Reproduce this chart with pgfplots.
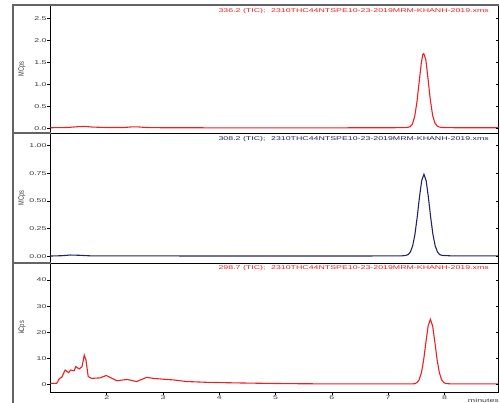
\documentclass[border=0pt]{standalone}
\usepackage{fontspec}
\setmainfont{Liberation Sans}
\usepackage{graphicx}
\usepackage{pgfplots}
\pgfplotsset{compat=1.18}
\definecolor{cred}{RGB}{240,30,30}
\definecolor{cnavy}{RGB}{35,35,100}
\definecolor{tcol}{RGB}{60,60,60}
\definecolor{fcol}{RGB}{100,100,100}
\newcommand{\T}[1]{\scalebox{1.6}[1]{\fontsize{5.5}{6}\selectfont #1}}
\newcommand{\YL}[1]{\scalebox{0.7}[1]{\fontsize{8}{9}\selectfont #1}}
\pgfplotsset{panel/.style={
  scale only axis, width=448pt, anchor=north west,
  xmin=1, xmax=8.96,
  axis line style={line width=0.8pt, black},
  tick style={line width=0.6pt, black},
  major tick length=3pt, tick align=outside,
  ytick pos=left, xtick pos=bottom,
  yticklabel style={inner sep=0.8pt, text=tcol},
  xticklabel style={inner sep=0.8pt, text=tcol},
  ylabel style={at={(axis description cs:-0.0636,0.5)}, anchor=center, text=tcol},
}}
\begin{document}
\begin{tikzpicture}[x=1pt,y=1pt]
\path[use as bounding box] (0,0) rectangle (500,-403);
% panel 1
\begin{axis}[panel, at={(50.5pt,-5pt)}, height=128pt,
  ymin=-0.11, ymax=2.81, xtick=\empty,
  ytick={0,0.5,1,1.5,2,2.5},
  yticklabels={\T{0.0},\T{0.5},\T{1.0},\T{1.5},\T{2.0},\T{2.5}},
  ylabel={\YL{MCps}}]
\addplot[cred, line width=1.1pt] coordinates {
(1.0,0.01) (1.3,0.015) (1.5,0.035) (1.6,0.04) (1.75,0.025) (2.0,0.015) (2.3,0.015) (2.45,0.03) (2.55,0.03) (2.7,0.015) (3.0,0.01) (4,0.008) (5,0.008) (6,0.008) (7,0.01) (7.3,0.012) (7.35,0.02) (7.39,0.035) (7.43,0.09) (7.47,0.26) (7.51,0.59) (7.55,1.05) (7.59,1.50) (7.615,1.68) (7.63,1.70) (7.645,1.66) (7.67,1.55) (7.71,1.10) (7.75,0.63) (7.79,0.29) (7.83,0.12) (7.87,0.05) (7.91,0.025) (7.97,0.015) (8.2,0.01) (8.96,0.01)};
\pgfplotsinvokeforeach{0,0.5,1,1.5,2,2.5}{\draw[line width=0.6pt] (axis cs:8.96,#1) -- ++(-3pt,0pt);}
\end{axis}
% panel 2
\begin{axis}[panel, at={(50.5pt,-133pt)}, height=130pt,
  ymin=-0.06, ymax=1.115, xtick=\empty,
  ytick={0,0.25,0.5,0.75,1},
  yticklabels={\T{0.00},\T{0.25},\T{0.50},\T{0.75},\T{1.00}},
  ylabel={\YL{MCps}}]
\addplot[cnavy, line width=1.1pt] coordinates {
(1.0,0.003) (1.2,0.006) (1.35,0.012) (1.5,0.01) (1.7,0.005) (2,0.004) (3,0.004) (4,0.003) (5,0.003) (6,0.003) (7,0.004) (7.25,0.005) (7.315,0.009) (7.355,0.016) (7.395,0.040) (7.435,0.095) (7.475,0.198) (7.515,0.352) (7.555,0.532) (7.595,0.683) (7.635,0.742) (7.675,0.683) (7.715,0.532) (7.755,0.352) (7.795,0.198) (7.835,0.095) (7.875,0.040) (7.915,0.016) (7.955,0.009) (8.1,0.005) (8.96,0.004)};
\pgfplotsinvokeforeach{0,0.25,0.5,0.75,1}{\draw[line width=0.6pt] (axis cs:8.96,#1) -- ++(-3pt,0pt);}
\end{axis}
% panel 3
\begin{axis}[panel, at={(50.5pt,-263pt)}, height=129pt,
  ymin=-2.8, ymax=46.5,
  xtick={2,3,4,5,6,7,8},
  xticklabels={\T{2},\T{3},\T{4},\T{5},\T{6},\T{7},\T{8}},
  ytick={0,10,20,30,40},
  yticklabels={\T{0},\T{10},\T{20},\T{30},\T{40}},
  ylabel={\YL{kCps}}]
\addplot[cred, line width=1.1pt] coordinates {
(1.0,0.5) (1.11,0.5) (1.16,2.4) (1.2,2.8) (1.26,5.6) (1.32,4.6) (1.36,5.6) (1.42,5.3) (1.45,6.9) (1.51,6.0) (1.56,6.9) (1.6,11.3) (1.63,9.4) (1.67,3.1) (1.73,2.4) (1.88,2.6) (1.99,3.5) (2.06,2.8) (2.18,1.5) (2.36,2.0) (2.53,1.2) (2.71,2.8) (2.83,2.4) (3.0,2.1) (3.19,1.8) (3.42,1.2) (3.78,0.9) (4.25,0.7) (4.53,0.6) (5,0.45) (5.5,0.35) (6,0.3) (6.5,0.3) (7.0,0.3) (7.4,0.3) (7.47,0.35) (7.51,0.76) (7.55,1.85) (7.59,4.5) (7.63,9.4) (7.67,16.2) (7.71,22.4) (7.75,25.0) (7.79,22.4) (7.83,16.2) (7.87,9.4) (7.91,4.5) (7.95,1.85) (7.99,0.76) (8.03,0.41) (8.1,0.32) (8.96,0.3)};
\pgfplotsinvokeforeach{0,10,20,30,40}{\draw[line width=0.6pt] (axis cs:8.96,#1) -- ++(-3pt,0pt);}
\end{axis}
% outer frame
\draw[fcol, line width=1.2pt] (13,-403) -- (13,-5) -- (499,-5);
\draw[fcol, line width=1.2pt] (13,-133) -- (50.5,-133);
\draw[fcol, line width=1.2pt] (13,-263) -- (50.5,-263);
% titles
\node[anchor=east, inner sep=0, text=cred] at (489,-11) {\T{336.2 (TIC);\hspace{2pt} 2310THC44NTSPE10-23-2019MRM-KHANH-2019.xms}};
\node[anchor=east, inner sep=0, text=cnavy] at (489,-139) {\T{308.2 (TIC);\hspace{2pt} 2310THC44NTSPE10-23-2019MRM-KHANH-2019.xms}};
\node[anchor=east, inner sep=0, text=cred] at (489,-268) {\T{298.7 (TIC);\hspace{2pt} 2310THC44NTSPE10-23-2019MRM-KHANH-2019.xms}};
\node[anchor=base east, inner sep=0, text=tcol] at (499,-402) {\T{minutes}};
\end{tikzpicture}
\end{document}
